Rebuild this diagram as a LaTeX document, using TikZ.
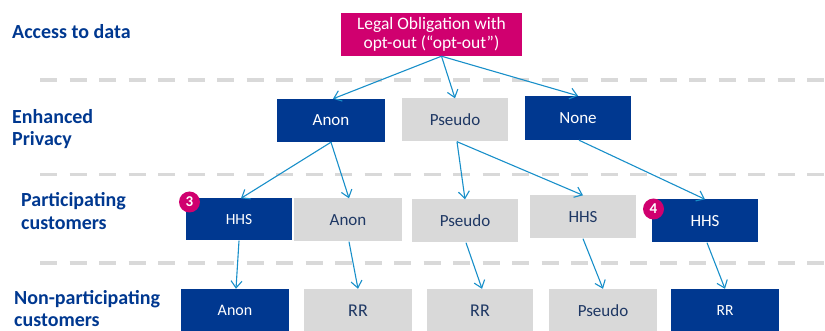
\documentclass[tikz,border=0pt]{standalone}
\usepackage{fontspec}
\setmainfont{Carlito}
\usetikzlibrary{arrows.meta}
\definecolor{dblue}{RGB}{0,56,144}
\definecolor{lgray}{RGB}{217,217,217}
\definecolor{mag}{RGB}{208,0,111}
\definecolor{arr}{RGB}{24,143,201}
\definecolor{gtext}{RGB}{31,56,100}
\definecolor{dash}{RGB}{217,217,217}
\newcommand\fs[1]{\fontsize{#1}{#1}\selectfont}
\tikzset{
  bluebox/.style={fill=dblue,text=white,minimum width=108pt,minimum height=43pt,inner sep=0pt,font=\fs{17}},
  graybox/.style={fill=lgray,text=gtext,minimum width=108pt,minimum height=43pt,inner sep=0pt,font=\fs{17}},
  rowlabel/.style={anchor=west,text=dblue,align=left,font=\fontsize{20}{22.5}\selectfont\bfseries,inner sep=0pt},
  conn/.style={draw=arr,line width=1.1pt,-{Straight Barb[length=7pt,width=11pt]}},
  sep/.style={draw=dash,line width=3.5pt,dash pattern=on 17pt off 12.5pt},
  badge/.style={circle,fill=mag,text=white,minimum size=21pt,inner sep=0pt,font=\fontsize{15}{16}\selectfont\bfseries}
}
\begin{document}
\begin{tikzpicture}[x=1pt,y=-1pt]
\useasboundingbox (0,0) rectangle (825,331);
% separators
\path[sep] (40,80) -- (825,80);
\path[sep] (40,174.5) -- (825,174.5);
\path[sep] (40,263) -- (825,263);
% row labels
\node[rowlabel] (l1) at (12,32) {Access to data};
\node[rowlabel] (l2) at (12,129) {Enhanced\\Privacy};
\node[rowlabel] (l3) at (21,211) {Participating\\customers};
\node[rowlabel] (l4) at (14,308.5) {Non-participating\\customers};
% top
\node[fill=mag,text=white,minimum width=181pt,minimum height=43pt,inner sep=0pt,align=center,font=\fontsize{17.5}{19.5}\selectfont] (legal) at (431.5,34.5) {Legal Obligation with\\opt-out (“opt-out”)};
% row 2
\node[bluebox] (a2) at (331,120.5) {Anon};
\node[graybox,minimum width=106pt] (p2) at (455,120) {Pseudo};
\node[bluebox,minimum width=106pt,minimum height=44pt] (n2) at (578,118) {None};
% row 3
\node[bluebox,font=\fs{15.5},minimum width=106pt,minimum height=42pt] (h3) at (239,219.5) {HHS};
\node[graybox] (a3) at (348,220) {Anon};
\node[graybox,minimum width=106pt] (p3) at (465,221) {Pseudo};
\node[graybox,minimum width=106pt] (hg3) at (583,217) {HHS};
\node[bluebox,minimum width=106pt] (h4) at (705,221) {HHS};
\node[badge] (b3) at (189.5,202) {3};
\node[badge] (b4) at (653.5,209) {4};
% row 4
\node[bluebox,font=\fs{16}] (a4) at (235,310.5) {Anon};
\node[graybox,font=\fs{18}] (r4a) at (358,310.5) {RR};
\node[graybox,font=\fs{18},minimum width=106pt] (r4b) at (480,310.5) {RR};
\node[graybox,minimum width=108pt] (p4) at (603,310.5) {Pseudo};
\node[bluebox,font=\fs{15.5}] (r4c) at (725,310.5) {RR};
% connectors
\draw[conn] ([xshift=10pt]legal.south) -- ([xshift=2pt]a2.north);
\draw[conn] ([xshift=10pt]legal.south) -- (p2.north);
\draw[conn] ([xshift=10pt]legal.south) -- (n2.north);
\draw[conn] (a2.south) -- ([xshift=2pt]h3.north);
\draw[conn] (a2.south) -- ([xshift=1pt]a3.north);
\draw[conn] ([xshift=2pt]p2.south) -- (p3.north);
\draw[conn] ([xshift=2pt]p2.south) -- (hg3.north);
\draw[conn] ([xshift=1pt]n2.south) -- (h4.north);
\draw[conn] (h3.south) -- ([xshift=1pt]a4.north);
\draw[conn] ([xshift=1pt]a3.south) -- (r4a.north);
\draw[conn] ([xshift=1pt]p3.south) -- ([xshift=2pt]r4b.north);
\draw[conn] (hg3.south) -- (p4.north);
\draw[conn] ([xshift=2pt]h4.south) -- (r4c.north);
\end{tikzpicture}
\end{document}
